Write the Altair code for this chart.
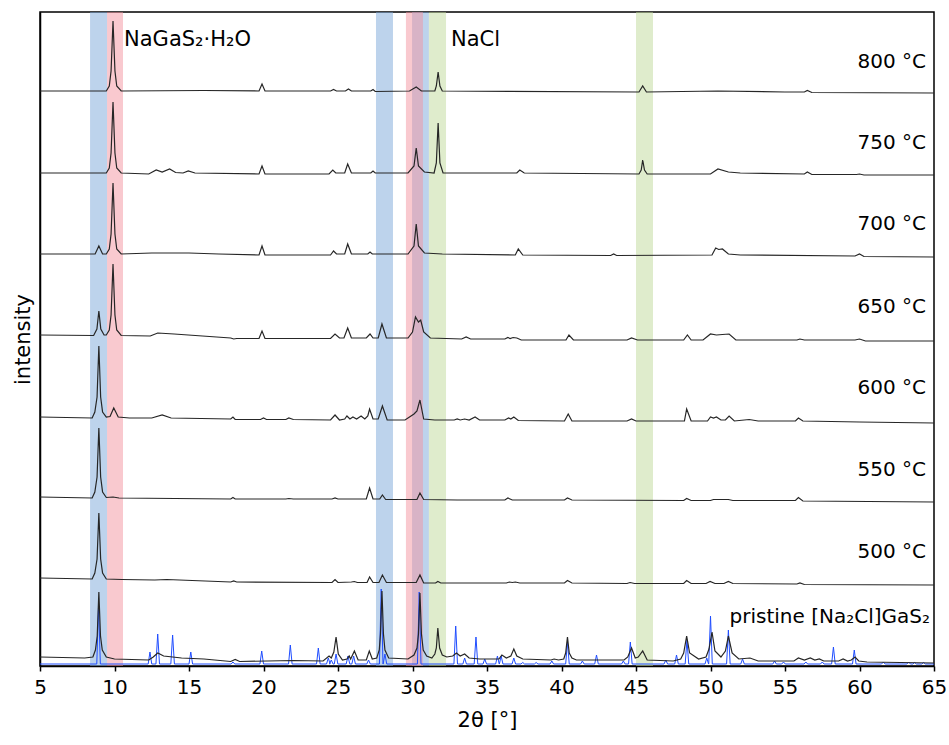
import altair as alt
import pandas as pd

# ---------------- data ----------------
# shaded reflection bands (2theta start, end, colour)
band_start = [8.36, 27.55, 29.97, 9.5, 29.56, 31.1, 45.0]
band_end   = [9.5, 28.69, 31.1, 10.57, 30.7, 32.25, 46.14]
band_color = ["#7BA7DA", "#7BA7DA", "#7BA7DA", "#F4949F", "#F4949F", "#C0DA9A", "#C0DA9A"]

# stacked traces: vertices (2theta, intensity relative to trace offset)
trace_names = ["800 °C", "750 °C", "700 °C", "650 °C", "600 °C", "550 °C", "500 °C", "pristine"]
trace_offsets = [575, 493, 412, 331, 249, 169, 88, 8]

t800 = [(5,0),(9.45,0),(9.65,5),(9.77,20),(9.9,70),(10.03,20),(10.15,5),(10.45,0),(16,0.5),(19.7,0),(19.9,7),(20.1,0),
        (24.5,0),(24.7,1.5),(24.9,0),(25.5,0),(25.7,2),(25.9,0),(27.2,0),(27.35,1.5),(27.5,-0.5),(29.8,0),(30.25,4),
        (30.6,0),(31.5,0),(31.6,5),(31.72,19),(31.84,5),(32.0,0),(45.2,-1),(45.45,5),(45.7,-1),(50.5,0),(55,-1),
        (56.3,-1),(56.5,0.5),(56.8,-1.5),(65,-2)]
t750 = [(5,0),(9.45,0),(9.65,5),(9.77,20),(9.9,71),(10.03,20),(10.15,5),(10.45,0),(12.3,-1),(12.8,3),(13.2,1),(13.7,4),
        (14.1,0.5),(14.6,0),(14.95,2),(15.4,0),(19.7,-1),(19.9,7),(20.1,-1),(24.4,-1),(24.65,3),(24.85,0),(25.45,0),
        (25.65,9),(25.9,0),(27.2,0),(27.35,2),(27.5,0),(29.7,0),(30.1,7),(30.25,25),(30.4,7),(30.8,1),(31.45,0),
        (31.6,10),(31.72,50),(31.84,10),(32.05,0),(37.0,0),(37.2,3),(37.5,0),(45.2,-1),(45.35,3),(45.45,13),(45.57,3),
        (45.75,-1),(50.0,-1),(50.5,4),(51.2,1),(52,0),(56.3,-1),(56.5,1),(56.8,-1.5),(59.8,-1.5),(60.0,-1),(60.3,-2),
        (65,-2)]
t700 = [(5,0),(8.7,0),(8.95,8),(9.2,0),(9.45,0),(9.65,5),(9.77,20),(9.9,71),(10.03,20),(10.15,5),(10.45,0),(12.5,1),
        (13.5,1),(15,1),(17,0),(19.7,-1),(19.9,8),(20.1,-1),(24.5,-1),(24.7,3),(24.9,0),(25.45,0),(25.65,10),(25.9,0),
        (27.0,0),(27.15,2),(27.3,0),(29.7,0),(30.1,8),(30.25,30),(30.4,8),(30.8,1),(32,0),(36.9,-1),(37.1,5),
        (37.4,-1),(43.3,-1.5),(43.5,0),(43.7,-1.5),(50.1,-1),(50.35,6),(50.55,4.5),(50.8,5),(51.2,0),(52,-1),
        (59.7,-2),(60,0),(60.3,-2.5),(65,-3)]
t650 = [(5,0),(8.6,-0.5),(8.82,6),(8.95,24),(9.08,6),(9.3,0),(9.45,0),(9.65,5),(9.77,20),(9.9,71),(10.03,20),(10.15,5),
        (10.45,-0.5),(12.4,-1),(12.9,2),(14,1),(17.8,-3),(18.0,-4),(18.2,-3.5),(19.7,-3.5),(19.9,4),(20.1,-3.5),
        (24.5,-3.5),(24.8,1),(25.1,-3),(25.4,-3),(25.65,7),(25.9,-3),(26.9,-3),(27.15,1),(27.35,-3),(27.7,-3),
        (27.95,11),(28.25,-3),(29.7,-3),(30.0,3),(30.2,18),(30.4,13),(30.55,15),(30.75,3),(31.2,-3),(33.3,-4),
        (33.6,-2),(33.9,-4),(36.2,-4),(36.4,-2.5),(36.55,-3.5),(36.75,-2.5),(37.0,-3),(37.3,-5),(40.3,-5),(40.5,0),
        (40.8,-5),(44.4,-5),(44.7,-3),(45.1,-5),(48.2,-5),(48.45,0),(48.7,-5),(49.5,-5),(50.0,1),(50.4,0),(50.8,0.5),
        (51.25,1),(51.7,-5),(55.8,-5),(56.0,-4),(56.3,-5),(59.7,-5),(60.0,-4),(60.4,-6),(65,-6)]
t600 = [(5,0),(8.5,-1),(8.68,5),(8.83,20),(8.95,71),(9.07,20),(9.2,5),(9.45,0),(9.7,0.5),(9.95,9),(10.25,0),(11,-1),
        (12.5,-1),(13.2,2),(13.8,-1),(17.8,-2),(17.95,0),(18.1,-2.5),(19.8,-2.5),(20.0,-1),(20.2,-2.5),(21.5,-2.5),
        (21.7,-1),(22,-2.5),(24.5,-3),(24.8,2),(25.1,-3),(25.45,-2),(25.6,1),(25.8,-2),(26.0,0),(26.25,-2),(26.55,1),
        (26.8,-2),(27.0,1),(27.12,8),(27.35,-2),(27.7,-2),(27.98,11),(28.3,-3),(29.5,-3),(30.1,3),(30.3,6),(30.5,17),
        (30.75,-2),(31.5,-3),(32.8,-3),(33.0,-2),(33.2,-3),(33.5,-2),(33.8,-3),(34.2,0),(34.5,-3),(36.2,-3),(36.45,-1),
        (36.6,-2),(36.8,0),(37.1,-3.5),(40.2,-4),(40.45,3),(40.7,-4),(44.4,-4),(44.7,-2),(45,-4),(48.25,-4),(48.4,8),
        (48.7,-4),(49.8,-4),(50.0,0),(50.2,-1),(50.4,0),(50.7,-3),(51.0,-3),(51.25,1),(51.6,-4),(52.6,-2.5),(53.2,-4),
        (55.7,-4),(55.9,-1),(56.2,-4),(60.0,-5),(65,-6)]
t550 = [(5,0),(8.5,-1),(8.68,5),(8.83,20),(8.95,69),(9.07,20),(9.2,5),(9.45,-0.5),(9.9,0),(10.3,-1),(17.8,-2),
        (17.95,-0.5),(18.1,-2),(21.5,-2),(21.7,-1.5),(22,-2),(24.6,-2),(24.8,-1),(25,-2),(26.9,-2),(27.12,9),
        (27.35,-2),(27.8,-2),(27.98,2),(28.2,-2.5),(30.3,-2.5),(30.5,4),(30.75,-2.5),(33,-3),(36.2,-3),(36.4,-1),
        (36.7,-3),(40.2,-3),(40.4,-1),(40.7,-3),(48.2,-3.5),(48.4,-1.5),(48.7,-3.5),(50,-3.5),(50.2,-2.5),(51.2,-2.5),
        (51.5,-3.5),(55.7,-3.5),(55.9,-0.5),(56.2,-4),(65,-5)]
t500 = [(5,0),(8.5,-1),(8.68,5),(8.83,19),(8.95,65),(9.07,19),(9.2,5),(9.45,-1),(10.5,-1.5),(12.7,-2),(13.5,-1.5),
        (17.8,-4),(18.0,-3),(18.2,-4),(24.6,-4.5),(24.8,-1.5),(25.0,-4.5),(25.9,-4),(26.1,-3.5),(26.3,-4.5),
        (26.95,-4.5),(27.12,1),(27.35,-4.5),(27.75,-4.5),(27.98,3),(28.25,-4.5),(30.25,-4.5),(30.5,3),(30.75,-5),
        (31.55,-5),(31.7,-3.5),(31.9,-5),(34,-5),(36.3,-5),(36.5,-4),(36.7,-4.5),(36.9,-4),(37.2,-5),(40.2,-5),
        (40.4,-2.5),(40.7,-5),(44.4,-5.5),(44.6,-4.5),(44.9,-5.5),(48.2,-5.5),(48.4,-2.5),(48.7,-5.5),(49.7,-5.5),
        (49.97,-3.5),(50.3,-5.5),(50.9,-5.5),(51.2,-3.5),(51.5,-5.5),(55.8,-6),(56.0,-5),(56.3,-6.5),(65,-7)]
tpristine = [(5,1),(8.0,0),(8.55,1),(8.72,8),(8.84,22),(8.95,66),(9.06,22),(9.18,8),(9.45,1),(10,-1),(12.3,-2),(12.6,1),
        (12.9,5),(13.3,2),(14.5,0),(16,-1),(17.8,-3.5),(18.1,-1.5),(18.4,-3.5),(22,-2.5),(24.0,-3),(24.4,2),(24.55,0),
        (24.72,6),(24.87,21),(25.02,4),(25.3,-2),(25.6,-1),(25.75,2),(25.85,-1),(26.1,7),(26.35,-2),(26.9,-2),
        (27.1,7),(27.3,-1),(27.6,0),(27.77,8),(27.85,24),(27.95,67),(28.05,24),(28.15,8),(28.4,0),(29.7,-1),(30.1,3),
        (30.3,10),(30.4,24),(30.5,65),(30.6,24),(30.72,8),(30.95,2),(31.3,0),(31.5,4),(31.6,10),(31.7,30),(31.82,10),
        (32.0,3),(32.3,1),(32.7,2),(32.95,5),(33.2,2),(33.5,4),(33.8,0),(34.5,-1),(35.8,-1),(36.0,3),(36.3,0),(36.6,2),
        (36.8,9),(37.0,2),(37.4,-1),(39.3,-2),(39.5,-1),(39.8,-2),(40.15,-1),(40.28,5),(40.4,21),(40.52,5),(40.7,0),
        (41.0,-2),(44.2,-2),(44.45,1),(44.7,10),(44.95,0),(45.15,1),(45.45,7),(45.75,-2),(47.5,-3),(48.0,-1),(48.2,5),
        (48.4,22),(48.6,5),(49.2,-1),(49.7,1),(49.9,9),(50.1,26),(50.3,7),(50.7,1),(51.0,7),(51.2,22),(51.45,5),
        (51.9,-1),(52.65,0),(53.2,-3),(55.6,-3),(55.9,0),(56.3,-2),(56.7,0),(57.0,-2),(57.3,-1),(57.6,-3),(58.6,-3),
        (58.9,-1),(59.2,-3),(59.45,-2),(59.7,1),(59.95,-3),(60.5,-4),(65,-5)]
traces = [t800, t750, t700, t650, t600, t550, t500, tpristine]

# calculated pattern of pristine [Na2Cl]GaS2 (blue): peak positions and heights
calc_offset = 2
calc_pos = [8.93, 12.38, 12.9, 13.9, 15.12, 17.95, 19.88, 21.8, 23.68, 24.35, 24.55, 24.87, 25.67, 26.05, 27.05,
            27.9, 28.15, 30.45, 32.9, 33.5, 34.26, 34.85, 35.7, 35.95, 36.8, 37.4, 38.3, 39.35, 40.4, 41.4, 42.35,
            44.15, 44.62, 47.0, 47.72, 48.42, 49.75, 50.0, 51.2, 52.15, 54.3, 54.9, 56.4, 57.5, 58.25, 59.65, 61.6,
            63.3, 63.7, 64.3]
calc_int = [58, 12, 30, 29, 12, 2, 13, 19, 16, 6, 4, 10, 8, 8, 4,
            75, 10, 72, 38, 6, 27, 5, 8, 8, 6, 1.5, 1.5, 3, 22, 3, 9,
            3, 22, 4, 9, 24, 6, 48, 34, 5, 3, 2, 2, 2, 17, 14, 2,
            2, 1.5, 1.5]
calc_halfwidth = 0.12

temp_labels = ["800 °C", "750 °C", "700 °C", "650 °C", "600 °C", "550 °C", "500 °C"]
temp_label_y = [604, 523, 442, 359, 278, 196, 114]
phase_labels = ["NaGaS₂·H₂O", "NaCl"]
phase_label_x = [10.64, 32.58]
phase_label_y = [626, 626]
pristine_label = "pristine [Na₂Cl]GaS₂"
pristine_label_x = 64.73
pristine_label_y = 49

# ---------------- tables ----------------
rows = []
for name, off, pts in zip(trace_names, trace_offsets, traces):
    for i, (x, y) in enumerate(pts):
        rows.append({"theta": x, "I": y + off, "trace": name, "i": i})
lines_df = pd.DataFrame(rows)

crow = []
k = 0
crow.append({"theta": 5.0, "I": calc_offset, "i": k}); k += 1
for p, h in zip(calc_pos, calc_int):
    for x, y in [(p - calc_halfwidth, calc_offset), (p, calc_offset + h), (p + calc_halfwidth, calc_offset)]:
        crow.append({"theta": x, "I": y, "i": k}); k += 1
crow.append({"theta": 65.0, "I": calc_offset, "i": k})
calc_df = pd.DataFrame(crow)

bands_df = pd.DataFrame({"start": band_start, "end": band_end, "color": band_color, "o": list(range(len(band_start)))})
temp_df = pd.DataFrame({"label": temp_labels, "x": [64.46] * len(temp_labels), "y": temp_label_y})
phase_df = pd.DataFrame({"label": phase_labels, "x": phase_label_x, "y": phase_label_y})
prist_df = pd.DataFrame({"label": [pristine_label], "x": [pristine_label_x], "y": [pristine_label_y]})

FONT = "DejaVu Sans"
xscale = alt.Scale(domain=[5, 65], nice=False, zero=False)
yscale = alt.Scale(domain=[0, 654], nice=False, zero=False)

xenc = alt.X("theta:Q", scale=xscale,
             axis=alt.Axis(title="2θ [°]", values=list(range(5, 70, 5)), grid=False, format="d",
                           labelFontSize=20, titleFontSize=21, titleFontWeight="normal",
                           labelPadding=6, titlePadding=12, tickSize=5, labelFlush=False))
yenc = alt.Y("I:Q", scale=yscale,
             axis=alt.Axis(title="intensity", labels=False, ticks=False, grid=False,
                           titleFontSize=21, titleFontWeight="normal", titlePadding=7))

bands = alt.Chart(bands_df).mark_rect(opacity=0.5).encode(
    x=alt.X("start:Q", scale=xscale), x2="end:Q",
    color=alt.Color("color:N", scale=None), order="o:Q")

calc = alt.Chart(calc_df).mark_line(color="#1f4dff", strokeWidth=1, clip=True).encode(
    x=xenc, y=yenc, order="i:Q")

lines = alt.Chart(lines_df).mark_line(color="#262626", strokeWidth=1.2, clip=True).encode(
    x=alt.X("theta:Q", scale=xscale), y=alt.Y("I:Q", scale=yscale), detail="trace:N", order="i:Q")

temps = alt.Chart(temp_df).mark_text(align="right", baseline="middle", fontSize=20, font=FONT, color="black").encode(
    x=alt.X("x:Q", scale=xscale), y=alt.Y("y:Q", scale=yscale), text="label:N")
phases = alt.Chart(phase_df).mark_text(align="left", baseline="middle", fontSize=21, font=FONT, color="black").encode(
    x=alt.X("x:Q", scale=xscale), y=alt.Y("y:Q", scale=yscale), text="label:N")
prist = alt.Chart(prist_df).mark_text(align="right", baseline="middle", fontSize=20, font=FONT, color="black").encode(
    x=alt.X("x:Q", scale=xscale), y=alt.Y("y:Q", scale=yscale), text="label:N")

chart = alt.layer(bands, calc, lines, temps, phases, prist).properties(
    width=894, height=654,
    autosize=alt.AutoSizeParams(type="none"),
    padding={"left": 40, "top": 12, "right": 15, "bottom": 79},
    background="white",
).configure_view(stroke="black", strokeWidth=1.5).configure_axis(
    labelFont=FONT, titleFont=FONT, labelColor="black", titleColor="black",
    domainColor="black", domainWidth=1.5, tickColor="black", tickWidth=1.5,
)

chart.save("out.html", embed_options={"renderer": "svg", "actions": False})
